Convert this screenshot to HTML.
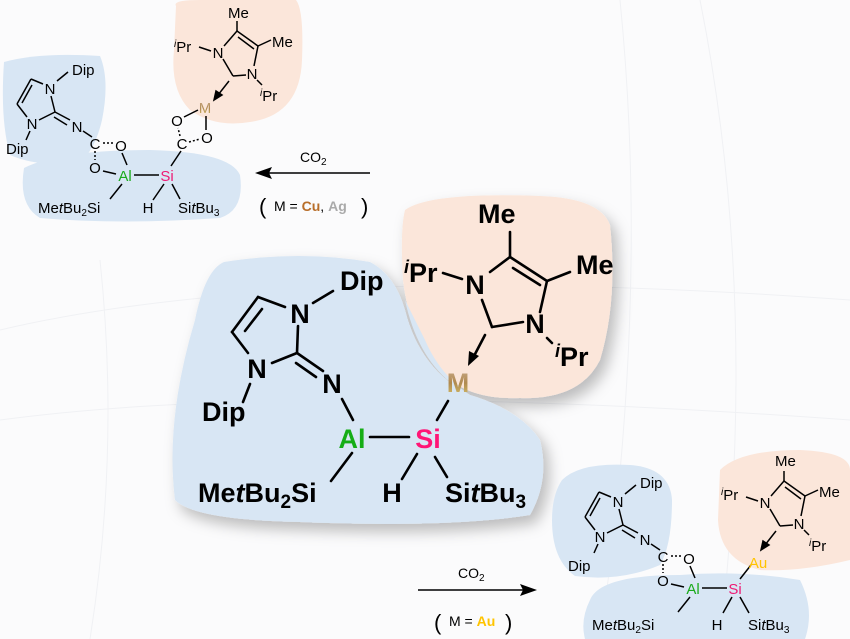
<!DOCTYPE html>
<html><head><meta charset="utf-8"><style>
html,body{margin:0;padding:0;background:#fff}
svg{display:block}
text{font-family:"Liberation Sans",sans-serif}
</style></head><body>
<svg width="850" height="639" viewBox="0 0 850 639" xmlns="http://www.w3.org/2000/svg">
<defs>
<linearGradient id="mg" x1="0" y1="0" x2="0" y2="1"><stop offset="0" stop-color="#c9a98a"/><stop offset="0.5" stop-color="#b08a50"/><stop offset="1" stop-color="#d8c36a"/></linearGradient>
<filter id="sh" x="-20%" y="-20%" width="140%" height="140%"><feDropShadow dx="6" dy="8" stdDeviation="7" flood-color="#000" flood-opacity="0.25"/></filter>
</defs>
<rect width="850" height="639" fill="#fbfbfc"/>
<g stroke="#f0f1f4" stroke-width="1" fill="none">
<path d="M0 330 Q300 260 850 300"/><path d="M0 420 Q300 380 850 420"/><path d="M620 0 Q650 300 600 639"/><path d="M700 0 Q760 300 720 639"/><path d="M100 260 Q120 450 90 639"/>
</g>

<!-- ============ TOP LEFT ============ -->
<path d="M176 6 Q172 0 200 0 L296 0 Q304 10 302 60 Q300 115 250 122 Q215 128 190 110 Q170 90 174 50 Z" fill="#fbe6da"/>
<path d="M4 62 Q40 52 100 56 Q110 80 102 120 Q95 150 80 162 Q40 168 10 155 Q0 120 4 62 Z" fill="#d8e6f4"/>
<path d="M24 168 Q60 150 150 150 Q230 152 240 175 Q245 210 220 218 Q120 225 40 218 Q18 205 24 168 Z" fill="#d8e6f4"/>
<g id="tl" stroke="#000" stroke-width="1.5" fill="none">
<line x1="57" y1="81" x2="68" y2="72"/>
<line x1="43" y1="84" x2="31" y2="79"/>
<line x1="31" y1="79" x2="17" y2="104"/><line x1="32" y1="85" x2="22" y2="103"/>
<line x1="17" y1="104" x2="27" y2="117"/>
<line x1="39" y1="120" x2="55" y2="112"/>
<line x1="55" y1="112" x2="51" y2="96"/>
<line x1="55" y1="112" x2="70" y2="120"/><line x1="54" y1="117" x2="67" y2="125"/>
<line x1="30" y1="131" x2="26" y2="140"/>
<line x1="83" y1="131" x2="92" y2="137"/>
<line x1="103" y1="143" x2="113" y2="143" stroke-dasharray="2 2"/>
<line x1="95" y1="151" x2="95" y2="160" stroke-dasharray="2 2"/>
<line x1="122" y1="153" x2="127" y2="165"/>
<line x1="103" y1="171" x2="116" y2="174"/>
<line x1="134" y1="175" x2="159" y2="175"/>
<line x1="122" y1="184" x2="110" y2="199"/>
</g>
<g stroke="#000" stroke-width="1.5" fill="none">
<line x1="164" y1="184" x2="153" y2="200"/>
<line x1="172" y1="184" x2="180" y2="199"/>
<line x1="171" y1="166" x2="181" y2="151"/>
<line x1="180" y1="136" x2="178" y2="128" stroke-dasharray="2 2"/>
<line x1="189" y1="142" x2="200" y2="139" stroke-dasharray="2 2"/>
<line x1="184" y1="117" x2="198" y2="110"/>
<line x1="206" y1="130" x2="206" y2="116"/>
</g>
<g id="nhcS" stroke="#000" stroke-width="1.5" fill="none">
<line x1="199" y1="47" x2="211" y2="51"/>
<line x1="224" y1="46" x2="237" y2="31"/>
<line x1="237" y1="31" x2="237" y2="21"/>
<line x1="237" y1="31" x2="258" y2="46"/><line x1="238" y1="37" x2="254" y2="49"/>
<line x1="258" y1="46" x2="271" y2="40"/>
<line x1="258" y1="46" x2="254" y2="66"/>
<line x1="246" y1="75" x2="233" y2="76"/>
<line x1="233" y1="76" x2="223" y2="59"/>
<line x1="257" y1="80" x2="262" y2="85"/>
<line x1="229" y1="81" x2="218" y2="95"/>
<path d="M214 100 L216 91 L222 95 Z" fill="#000"/>
</g>
<g font-size="15" fill="#000">
<text x="72" y="75">Dip</text>
<text x="50" y="94" text-anchor="middle">N</text>
<text x="32" y="129" text-anchor="middle">N</text>
<text x="77" y="132" text-anchor="middle">N</text>
<text x="6" y="154">Dip</text>
<text x="95" y="149" text-anchor="middle">C</text>
<text x="121" y="151" text-anchor="middle">O</text>
<text x="95" y="173" text-anchor="middle">O</text>
<text x="125" y="181" text-anchor="middle" fill="#1aaa1a">Al</text>
<text x="167" y="181" text-anchor="middle" fill="#ee1a74">Si</text>
<text x="38" y="213">Me<tspan font-style="italic">t</tspan>Bu<tspan font-size="10" dy="3">2</tspan><tspan dy="-3">Si</tspan></text>
<text x="148" y="213" text-anchor="middle">H</text>
<text x="178" y="213">Si<tspan font-style="italic">t</tspan>Bu<tspan font-size="10" dy="3">3</tspan></text>
<text x="182" y="149" text-anchor="middle">C</text>
<text x="177" y="126" text-anchor="middle">O</text>
<text x="207" y="143" text-anchor="middle">O</text>
<text x="205" y="113" text-anchor="middle" fill="url(#mg)">M</text>
<text x="228" y="18">Me</text>
<text x="272" y="47">Me</text>
<text x="218" y="58" text-anchor="middle">N</text>
<text x="252" y="79" text-anchor="middle">N</text>
<text x="174" y="52"><tspan font-size="10" font-style="italic" dy="-5">i</tspan><tspan dy="5">Pr</tspan></text>
<text x="260" y="101"><tspan font-size="10" font-style="italic" dy="-5">i</tspan><tspan dy="5">Pr</tspan></text>
</g>
<line x1="370" y1="173" x2="268" y2="173" stroke="#000" stroke-width="1.5"/>
<path d="M255 173 L272 167 L269 173 L272 179 Z" fill="#000"/>
<text x="300" y="162" font-size="14">CO<tspan font-size="10" dy="3">2</tspan></text>
<text x="259" y="214" font-size="22">(</text>
<text x="274" y="211" font-size="14">M = <tspan fill="#b86e2a" font-weight="bold">Cu</tspan>, <tspan fill="#aaa" font-weight="bold">Ag</tspan></text>
<text x="361" y="214" font-size="22">)</text>

<!-- ============ CENTER ============ -->
<g filter="url(#sh)">
<path d="M224 262 Q300 250 370 262 Q395 275 405 310 Q420 370 470 395 Q520 410 540 440 Q550 480 530 515 Q450 528 300 522 Q195 520 175 500 Q165 420 195 320 Q205 270 224 262 Z" fill="#d8e6f4"/>
<path d="M405 210 Q430 192 540 196 Q600 198 610 225 Q618 300 600 360 Q580 400 520 398 Q470 400 445 375 Q410 340 403 280 Q400 230 405 210 Z" fill="#fbe6da"/>
</g>
<path d="M405 300 Q420 370 470 395 Q440 375 425 340 Z" fill="#d8e6f4"/>
<g stroke="#000" stroke-width="2.6" fill="none" stroke-linecap="round">
<line x1="313" y1="303" x2="333" y2="291"/>
<line x1="285" y1="307" x2="258" y2="297"/>
<line x1="258" y1="297" x2="232" y2="332"/><line x1="262" y1="309" x2="245" y2="331"/>
<line x1="232" y1="332" x2="248" y2="353"/>
<line x1="272" y1="363" x2="297" y2="353"/>
<line x1="297" y1="353" x2="298" y2="326"/>
<line x1="297" y1="353" x2="323" y2="371"/><line x1="296" y1="363" x2="316" y2="377"/>
<line x1="250" y1="384" x2="243" y2="402"/>
<line x1="342" y1="399" x2="353" y2="420"/>
<line x1="370" y1="437" x2="409" y2="437"/>
<line x1="352" y1="453" x2="331" y2="481"/>
<line x1="417" y1="454" x2="402" y2="479"/>
<line x1="435" y1="457" x2="447" y2="477"/>
<line x1="437" y1="420" x2="448" y2="401"/>
<line x1="443" y1="273" x2="462" y2="279"/>
<line x1="490" y1="272" x2="510" y2="257"/>
<line x1="510" y1="257" x2="510" y2="232"/>
<line x1="510" y1="257" x2="547" y2="281"/><line x1="513" y1="268" x2="540" y2="285"/>
<line x1="547" y1="281" x2="570" y2="272"/>
<line x1="547" y1="281" x2="540" y2="312"/>
<line x1="523" y1="322" x2="492" y2="327"/>
<line x1="492" y1="327" x2="482" y2="300"/>
<line x1="547" y1="338" x2="552" y2="343"/>
<line x1="485" y1="335" x2="474" y2="356"/>
</g>
<path d="M468 366 L469 351 L479 356 Z" fill="#000"/>
<g font-size="27" font-weight="bold" fill="#000">
<text x="340" y="290">Dip</text>
<text x="300" y="323" text-anchor="middle">N</text>
<text x="257" y="378" text-anchor="middle">N</text>
<text x="332" y="393" text-anchor="middle">N</text>
<text x="202" y="421">Dip</text>
<text x="352" y="448" text-anchor="middle" fill="#15ad15">Al</text>
<text x="428" y="448" text-anchor="middle" fill="#ff1576">Si</text>
<text x="458" y="392" text-anchor="middle" fill="url(#mg)">M</text>
<text x="198" y="502">Me<tspan font-style="italic">t</tspan>Bu<tspan font-size="19" dy="6">2</tspan><tspan dy="-6">Si</tspan></text>
<text x="392" y="502" text-anchor="middle">H</text>
<text x="445" y="502">Si<tspan font-style="italic">t</tspan>Bu<tspan font-size="19" dy="6">3</tspan></text>
<text x="478" y="223">Me</text>
<text x="576" y="274">Me</text>
<text x="475" y="294" text-anchor="middle">N</text>
<text x="535" y="333" text-anchor="middle">N</text>
<text x="404" y="282"><tspan font-size="18" font-style="italic" dy="-9">i</tspan><tspan dy="9">Pr</tspan></text>
<text x="555" y="366"><tspan font-size="18" font-style="italic" dy="-9">i</tspan><tspan dy="9">Pr</tspan></text>
</g>

<!-- ============ BOTTOM RIGHT ============ -->
<path d="M720 470 Q740 450 800 450 Q850 452 850 470 L850 560 Q800 572 760 570 Q720 560 718 520 Z" fill="#fbe6da"/>
<path d="M562 480 Q580 462 630 465 Q670 468 672 500 Q672 545 660 565 Q620 582 575 576 Q552 560 552 520 Q552 495 562 480 Z" fill="#d8e6f4"/>
<path d="M590 600 Q600 575 680 575 Q740 570 800 580 Q815 610 805 639 L585 639 Q580 620 590 600 Z" fill="#d8e6f4"/>
<g transform="translate(568,413)">
<use href="#tl"/>
<g font-size="15" fill="#000">
<text x="72" y="75">Dip</text>
<text x="50" y="94" text-anchor="middle">N</text>
<text x="32" y="129" text-anchor="middle">N</text>
<text x="77" y="132" text-anchor="middle">N</text>
<text x="0" y="158">Dip</text>
<text x="95" y="149" text-anchor="middle">C</text>
<text x="121" y="151" text-anchor="middle">O</text>
<text x="95" y="173" text-anchor="middle">O</text>
<text x="125" y="181" text-anchor="middle" fill="#1aaa1a">Al</text>
<text x="167" y="181" text-anchor="middle" fill="#ee1a74">Si</text>
<text x="24" y="217">Me<tspan font-style="italic">t</tspan>Bu<tspan font-size="10" dy="3">2</tspan><tspan dy="-3">Si</tspan></text>
<text x="149" y="217" text-anchor="middle">H</text>
<text x="180" y="217">Si<tspan font-style="italic">t</tspan>Bu<tspan font-size="10" dy="3">3</tspan></text>
</g>
<g stroke="#000" stroke-width="1.5">
<line x1="164" y1="184" x2="155" y2="200"/>
<line x1="172" y1="184" x2="181" y2="200"/>
<line x1="172" y1="166" x2="183" y2="152"/>
</g>
</g>
<g transform="translate(547,450)">
<use href="#nhcS"/>
<g font-size="15" fill="#000">
<text x="228" y="16">Me</text>
<text x="272" y="47">Me</text>
<text x="218" y="58" text-anchor="middle">N</text>
<text x="252" y="79" text-anchor="middle">N</text>
<text x="174" y="50"><tspan font-size="10" font-style="italic" dy="-5">i</tspan><tspan dy="5">Pr</tspan></text>
<text x="262" y="101"><tspan font-size="10" font-style="italic" dy="-5">i</tspan><tspan dy="5">Pr</tspan></text>
<text x="211" y="118" text-anchor="middle" fill="#ffc400">Au</text>
</g>
</g>
<line x1="418" y1="590" x2="524" y2="590" stroke="#000" stroke-width="1.5"/>
<path d="M537 590 L520 584 L523 590 L520 596 Z" fill="#000"/>
<text x="458" y="578" font-size="14">CO<tspan font-size="10" dy="3">2</tspan></text>
<text x="434" y="630" font-size="22">(</text>
<text x="449" y="626" font-size="14">M = <tspan fill="#ffc400" font-weight="bold">Au</tspan></text>
<text x="505" y="630" font-size="22">)</text>
</svg>
</body></html>
